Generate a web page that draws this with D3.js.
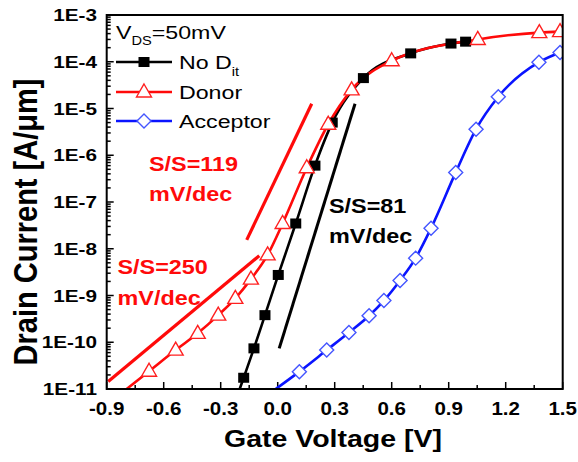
<!DOCTYPE html>
<html>
<head>
<meta charset="utf-8" />
<script src="https://cdn.jsdelivr.net/npm/d3@7"></script>
<style>
  body { margin: 0; background: #fff; }
  text { font-family: "Liberation Sans", Arial, sans-serif; }
</style>
</head>
<body>
<div id="chart"></div>
<script>
// gate voltage [V] and drain current [A/um]
var noDitV = [-0.179, -0.125, -0.067, 0.003, 0.095, 0.196, 0.287, 0.451, 0.70, 0.912, 0.989];
var noDitI = [1.74e-11, 7.4e-11, 3.8e-10, 2.75e-9, 3.47e-8, 6.0e-7, 5.0e-6, 4.47e-5, 1.51e-4, 2.45e-4, 2.69e-4];

var donorV = [-0.677, -0.537, -0.421, -0.313, -0.223, -0.141, -0.053, 0.026, 0.153, 0.266, 0.389, 0.60, 1.053, 1.377, 1.486];
var donorI = [2.4e-11, 6.8e-11, 1.55e-10, 3.8e-10, 8.7e-10, 2.24e-9, 7.4e-9, 3.47e-8, 5.4e-7, 4.6e-6, 2.5e-5, 1.05e-4, 3.0e-4, 4.2e-4, 4.4e-4];

var acceptorV = [0.114, 0.258, 0.375, 0.481, 0.559, 0.644, 0.726, 0.807, 0.937, 1.044, 1.161, 1.375, 1.486];
var acceptorI = [2.35e-11, 6.8e-11, 1.62e-10, 3.7e-10, 7.8e-10, 2.1e-9, 6.3e-9, 2.75e-8, 4.3e-7, 3.6e-6, 1.78e-5, 9.8e-5, 1.58e-4];

// where each curve leaves the bottom of the frame
var noDitStart = [-0.20, 1e-11];
var donorStart = [-0.795, 1e-11];
var acceptorStart = [-0.01, 1e-11];

// subthreshold-swing fit lines [V0, I0, V1, I1]
var fit250 = [-0.892, 1.45e-11, -0.097, 7.1e-9];
var fit119 = [-0.163, 1.55e-8, 0.179, 1.26e-5];
var fit81 = [0.008, 7.4e-11, 0.407, 1.26e-5];

var xTicks = [-0.9, -0.6, -0.3, 0.0, 0.3, 0.6, 0.9, 1.2, 1.5];
var yTicks = [1e-11, 1e-10, 1e-9, 1e-8, 1e-7, 1e-6, 1e-5, 1e-4, 1e-3];

var W = 578, H = 462;
var pL = 106.7, pR = 562.7, pT = 15, pB = 389;
var SX = 1.22; // the original text is drawn a bit wide

var x = d3.scaleLinear().domain([-0.9, 1.5]).range([pL, pR]);
var y = d3.scaleLog().domain([1e-11, 1e-3]).range([pB, pT]);

var svg = d3.select("#chart").append("svg")
  .attr("width", W).attr("height", H);

svg.append("clipPath").attr("id", "clip")
  .append("rect")
  .attr("x", pL).attr("y", pT)
  .attr("width", pR - pL).attr("height", pB - pT);

function wideText(sel, px, py, sx) {
  return sel.attr("transform", "translate(" + px + "," + py + ") scale(" + (sx || SX) + ",1)");
}

// ticks, inside the frame
var axisG = svg.append("g").attr("stroke", "#000").attr("stroke-width", 1.5);
d3.range(0, 17).forEach(function (i) {
  var v = -0.9 + i * 0.15;
  var len = (i % 2 === 0) ? 7 : 4;
  axisG.append("line")
    .attr("x1", x(v)).attr("x2", x(v))
    .attr("y1", pB).attr("y2", pB - len);
});
for (var e = -11; e < -3; e++) {
  for (var m = 1; m < 10; m++) {
    var v = m * Math.pow(10, e);
    axisG.append("line")
      .attr("x1", pL).attr("x2", pL + (m === 1 ? 7 : 4))
      .attr("y1", y(v)).attr("y2", y(v));
  }
}

svg.selectAll(".xlab").data(xTicks).enter().append("text")
  .attr("class", "xlab")
  .each(function (d) { wideText(d3.select(this), x(d), 415, 1.08); })
  .attr("text-anchor", "middle")
  .style("font-size", "19px").style("font-weight", "bold")
  .text(function (d) { return d.toFixed(1); });

svg.selectAll(".ylab").data(yTicks).enter().append("text")
  .attr("class", "ylab")
  .each(function (d) { wideText(d3.select(this), 97, y(d) + 6); })
  .attr("text-anchor", "end")
  .style("font-size", "17px").style("font-weight", "bold")
  .text(function (d) { return "1E" + Math.round(Math.log10(d)); });

wideText(svg.append("text"), 333, 447, 1.24)
  .attr("text-anchor", "middle")
  .style("font-size", "23px").style("font-weight", "bold")
  .text("Gate Voltage [V]");

svg.append("text")
  .attr("transform", "translate(37,222) scale(1.15,1) rotate(-90)")
  .attr("text-anchor", "middle")
  .style("font-size", "29px").style("font-weight", "bold")
  .text("Drain Current [A/\u03bcm]");

// curves
var plot = svg.append("g").attr("clip-path", "url(#clip)");
var line = d3.line()
  .x(function (d) { return x(d[0]); })
  .y(function (d) { return y(d[1]); })
  .curve(d3.curveMonotoneX);

function pts(start, vs, is) {
  return [start].concat(vs.map(function (v, i) { return [v, is[i]]; }));
}

var series = [
  { pts: pts(noDitStart, noDitV, noDitI), color: "#000", shape: "square" },
  { pts: pts(acceptorStart, acceptorV, acceptorI), color: "#0a14ff", shape: "diamond" },
  { pts: pts(donorStart, donorV, donorI), color: "#ff0a0a", shape: "triangle" }
];

[fit250, fit119].forEach(function (f) {
  plot.append("line")
    .attr("x1", x(f[0])).attr("y1", y(f[1]))
    .attr("x2", x(f[2])).attr("y2", y(f[3]))
    .attr("stroke", "#ff0a0a").attr("stroke-width", 3.2);
});
plot.append("line")
  .attr("x1", x(fit81[0])).attr("y1", y(fit81[1]))
  .attr("x2", x(fit81[2])).attr("y2", y(fit81[3]))
  .attr("stroke", "#000").attr("stroke-width", 3);

series.forEach(function (s) {
  plot.append("path").datum(s.pts)
    .attr("d", line)
    .attr("fill", "none")
    .attr("stroke", s.color)
    .attr("stroke-width", 2.6);
});

function marker(g, shape, cx, cy) {
  if (shape === "square") {
    g.append("rect").attr("x", cx - 5.5).attr("y", cy - 5)
      .attr("width", 11).attr("height", 10)
      .attr("fill", "#000");
  } else if (shape === "triangle") {
    g.append("path")
      .attr("d", "M" + cx + "," + (cy - 8) + "L" + (cx + 7.5) + "," + (cy + 5) + "L" + (cx - 7.5) + "," + (cy + 5) + "Z")
      .attr("fill", "#fff").attr("stroke", "#ff2020").attr("stroke-width", 1.4);
  } else {
    g.append("path")
      .attr("d", "M" + cx + "," + (cy - 7) + "L" + (cx + 7) + "," + cy + "L" + cx + "," + (cy + 7) + "L" + (cx - 7) + "," + cy + "Z")
      .attr("fill", "#fff").attr("stroke", "#4455ff").attr("stroke-width", 1.4);
  }
}

series.forEach(function (s) {
  s.pts.slice(1).forEach(function (p) { marker(plot, s.shape, x(p[0]), y(p[1])); });
});

// frame
svg.append("rect")
  .attr("x", pL).attr("y", pT)
  .attr("width", pR - pL).attr("height", pB - pT)
  .attr("fill", "none").attr("stroke", "#000").attr("stroke-width", 2);

// V_DS note
var vds = wideText(svg.append("text"), 116, 39).style("font-size", "19px");
vds.append("tspan").text("V");
vds.append("tspan").attr("dy", 6).style("font-size", "12px").text("DS");
vds.append("tspan").attr("dy", -6).text("=50mV");

// legend
var legend = [
  { label: "No D", sub: "it", color: "#000", shape: "square", yy: 62 },
  { label: "Donor", color: "#ff0a0a", shape: "triangle", yy: 92 },
  { label: "Acceptor", color: "#0a14ff", shape: "diamond", yy: 121 }
];
legend.forEach(function (l) {
  svg.append("line")
    .attr("x1", 116).attr("x2", 172).attr("y1", l.yy).attr("y2", l.yy)
    .attr("stroke", l.color).attr("stroke-width", 2.6);
  marker(svg, l.shape, 144, l.yy);
  var t = wideText(svg.append("text"), 179, l.yy + 7).style("font-size", "19px");
  t.append("tspan").text(l.label);
  if (l.sub) t.append("tspan").attr("dy", 7).style("font-size", "12px").text(l.sub);
});

// swing annotations
var notes = [
  { x: 149, y: 171, text: "S/S=119", color: "#ff0a0a" },
  { x: 149, y: 201, text: "mV/dec", color: "#ff0a0a" },
  { x: 117.5, y: 274, text: "S/S=250", color: "#ff0a0a" },
  { x: 117.5, y: 305, text: "mV/dec", color: "#ff0a0a" },
  { x: 329, y: 213, text: "S/S=81", color: "#000" },
  { x: 329, y: 243, text: "mV/dec", color: "#000" }
];
notes.forEach(function (n) {
  wideText(svg.append("text"), n.x, n.y, 1.17)
    .style("font-size", "20px").style("font-weight", "bold")
    .attr("fill", n.color)
    .text(n.text);
});
</script>
</body>
</html>
